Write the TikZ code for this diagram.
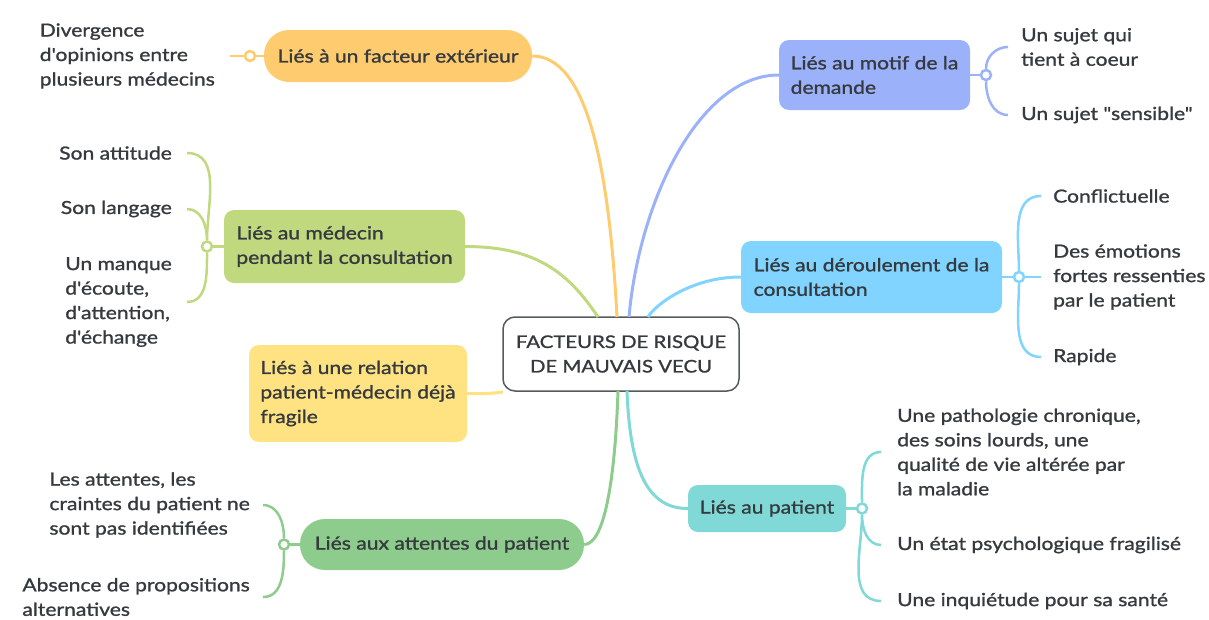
\documentclass[tikz,border=0pt]{standalone}
\usepackage{fontspec}
\setmainfont{Lato}[Ligatures=TeXOff, FakeStretch=1.17, FakeBold=1.2]
\usetikzlibrary{positioning}

\definecolor{txt}{HTML}{363A3E}
\definecolor{rootline}{HTML}{555A5E}
\definecolor{cExt}{HTML}{FECB6F}
\definecolor{cMed}{HTML}{C0D97F}
\definecolor{cRel}{HTML}{FFE382}
\definecolor{cAtt}{HTML}{8ECC8E}
\definecolor{cMot}{HTML}{9BB2FB}
\definecolor{cDer}{HTML}{80D4FF}
\definecolor{cPat}{HTML}{80D9D6}

\tikzset{
  box/.style={fill=#1, rounded corners=10pt, align=left, inner sep=0pt, text=txt},
  pill/.style={fill=#1, rounded corners=25pt, align=left, inner sep=0pt, text=txt},
  leaf/.style={align=left, inner sep=0pt, text=txt},
  branch/.style={draw=#1, line width=3pt},
  twig/.style={draw=#1, line width=2.5pt},
  knot/.style={circle, draw=#1, fill=white, line width=2.5pt, inner sep=0pt, minimum size=10pt},
}

\begin{document}
\begin{tikzpicture}[x=1pt, y=1pt, every node/.style={font=\fontsize{18}{24.5}\selectfont}]
  \useasboundingbox (0,0) rectangle (1209,-619);

  \node[draw=rootline, fill=white, line width=1.5pt, rounded corners=12pt, minimum width=236pt,
        minimum height=74pt, align=center, text=txt, font=\fontsize{17.4}{24.5}\selectfont]
        (root) at (621,-354) {FACTEURS DE RISQUE\\DE MAUVAIS VECU};

  \node[pill=cExt, minimum width=268pt, minimum height=52pt] (ext) at (398,-56) {Liés à un facteur extérieur};
  \node[box=cMed, minimum width=241pt, minimum height=73pt] (med) at (344.5,-246.5) {Liés au médecin\\pendant la consultation};
  \node[box=cRel, minimum width=218pt, minimum height=97pt] (rel) at (358,-393.5) {Liés à une relation\\patient-médecin déjà\\fragile};
  \node[pill=cAtt, minimum width=284pt, minimum height=51pt] (att) at (442,-544.5) {Liés aux attentes du patient};
  \node[box=cMot, minimum width=191pt, minimum height=70pt] (mot) at (874.5,-75) {Liés au motif de la\\demande};
  \node[box=cDer, minimum width=261pt, minimum height=72pt] (der) at (871.5,-277) {Liés au déroulement de la\\consultation};
  \node[box=cPat, minimum width=158pt, minimum height=47pt] (pat) at (767,-508.5) {Liés au patient};

  \coordinate (rExt) at (617,-317);
  \coordinate (rMed) at (598,-317);
  \coordinate (rRel) at (503,-392);
  \coordinate (rAtt) at (618,-391);
  \coordinate (rMot) at (629,-317);
  \coordinate (rDer) at (648,-317);
  \coordinate (rPat) at (627,-391);

  \draw[branch=cExt] (ext.east) .. controls +(55,0) and +(-8,150) .. (rExt);
  \draw[branch=cMed] (med.east) .. controls +(70,0) and +(-30,45) .. (rMed);
  \draw[branch=cRel] (rel.east) .. controls +(15,0) and +(-15,-2) .. (rRel);
  \draw[branch=cAtt] (att.east) .. controls +(20,0) and +(-3,-90) .. (rAtt);
  \draw[branch=cMot] (mot.west) .. controls +(-80,0) and +(10,115) .. (rMot);
  \draw[branch=cDer] (der.west) .. controls +(-50,0) and +(7,12) .. (rDer);
  \draw[branch=cPat] (pat.west) .. controls +(-40,0) and +(3,-80) .. (rPat);

  \node[knot=cExt] (kExt) at (250,-56) {};
  \node[knot=cMed] (kMed) at (207,-246.5) {};
  \node[knot=cAtt] (kAtt) at (284,-544.5) {};
  \node[knot=cMot] (kMot) at (986,-75) {};
  \node[knot=cDer] (kDer) at (1019,-277) {};
  \node[knot=cPat] (kPat) at (862,-508.5) {};

  \coordinate (eExt) at (230,-56);
  \coordinate (eMed1) at (187,-153);
  \coordinate (eMed2) at (187,-209);
  \coordinate (eMed3) at (187,-302);
  \coordinate (eAtt1) at (263,-505);
  \coordinate (eAtt2) at (263,-597);
  \coordinate (eMot1) at (1008,-47);
  \coordinate (eMot2) at (1008,-115);
  \coordinate (eDer1) at (1041,-196);
  \coordinate (eDer2) at (1041,-277);
  \coordinate (eDer3) at (1041,-357);
  \coordinate (ePat1) at (881,-452);
  \coordinate (ePat2) at (881,-545);
  \coordinate (ePat3) at (881,-601);

  \draw[twig=cExt] (ext.west) -- (kExt) -- (eExt);
  \draw[twig=cMed] (med.west) -- (kMed);
  \draw[twig=cMed] (kMed) to[out=90,in=0] (eMed1);
  \draw[twig=cMed] (kMed) to[out=90,in=0] (eMed2);
  \draw[twig=cMed] (kMed) to[out=-90,in=0] (eMed3);
  \draw[twig=cAtt] (att.west) -- (kAtt);
  \draw[twig=cAtt] (kAtt) to[out=90,in=0] (eAtt1);
  \draw[twig=cAtt] (kAtt) to[out=-90,in=0] (eAtt2);
  \draw[twig=cMot] (mot.east) -- (kMot);
  \draw[twig=cMot] (kMot) to[out=90,in=180] (eMot1);
  \draw[twig=cMot] (kMot) to[out=-90,in=180] (eMot2);
  \draw[twig=cDer] (der.east) -- (kDer) -- (eDer2);
  \draw[twig=cDer] (kDer) to[out=90,in=180] (eDer1);
  \draw[twig=cDer] (kDer) to[out=-90,in=180] (eDer3);
  \draw[twig=cPat] (pat.east) -- (kPat);
  \draw[twig=cPat] (kPat) to[out=90,in=180] (ePat1);
  \draw[twig=cPat] (kPat) to[out=-90,in=180] (ePat2);
  \draw[twig=cPat] (kPat) to[out=-90,in=180] (ePat3);

  \node[leaf, left=15pt of eExt] (lDivergence) {Divergence\\d'opinions entre\\plusieurs médecins};
  \node[leaf, left=15pt of eMed1] (lAttitude) {Son attitude};
  \node[leaf, left=15pt of eMed2] (lLangage) {Son langage};
  \node[leaf, left=15pt of eMed3] (lEcoute) {Un manque\\d'écoute,\\d'attention,\\d'échange};
  \node[leaf, left=13pt of eAtt1] (lCraintes) {Les attentes, les\\craintes du patient ne\\sont pas identifiées};
  \node[leaf, left=13pt of eAtt2] (lAbsence) {Absence de propositions\\alternatives};
  \node[leaf, right=13pt of eMot1] (lCoeur) {Un sujet qui\\tient à coeur};
  \node[leaf, right=13pt of eMot2] (lSensible) {Un sujet "sensible"};
  \node[leaf, right=12pt of eDer1] (lConflit) {Conflictuelle};
  \node[leaf, right=12pt of eDer2] (lEmotions) {Des émotions\\fortes ressenties\\par le patient};
  \node[leaf, right=12pt of eDer3] (lRapide) {Rapide};
  \node[leaf, right=16pt of ePat1] (lChronique) {Une pathologie chronique,\\des soins lourds, une\\qualité de vie altérée par\\la maladie};
  \node[leaf, right=16pt of ePat2] (lPsy) {Un état psychologique fragilisé};
  \node[leaf, right=16pt of ePat3] (lSante) {Une inquiétude pour sa santé};
\end{tikzpicture}
\end{document}
